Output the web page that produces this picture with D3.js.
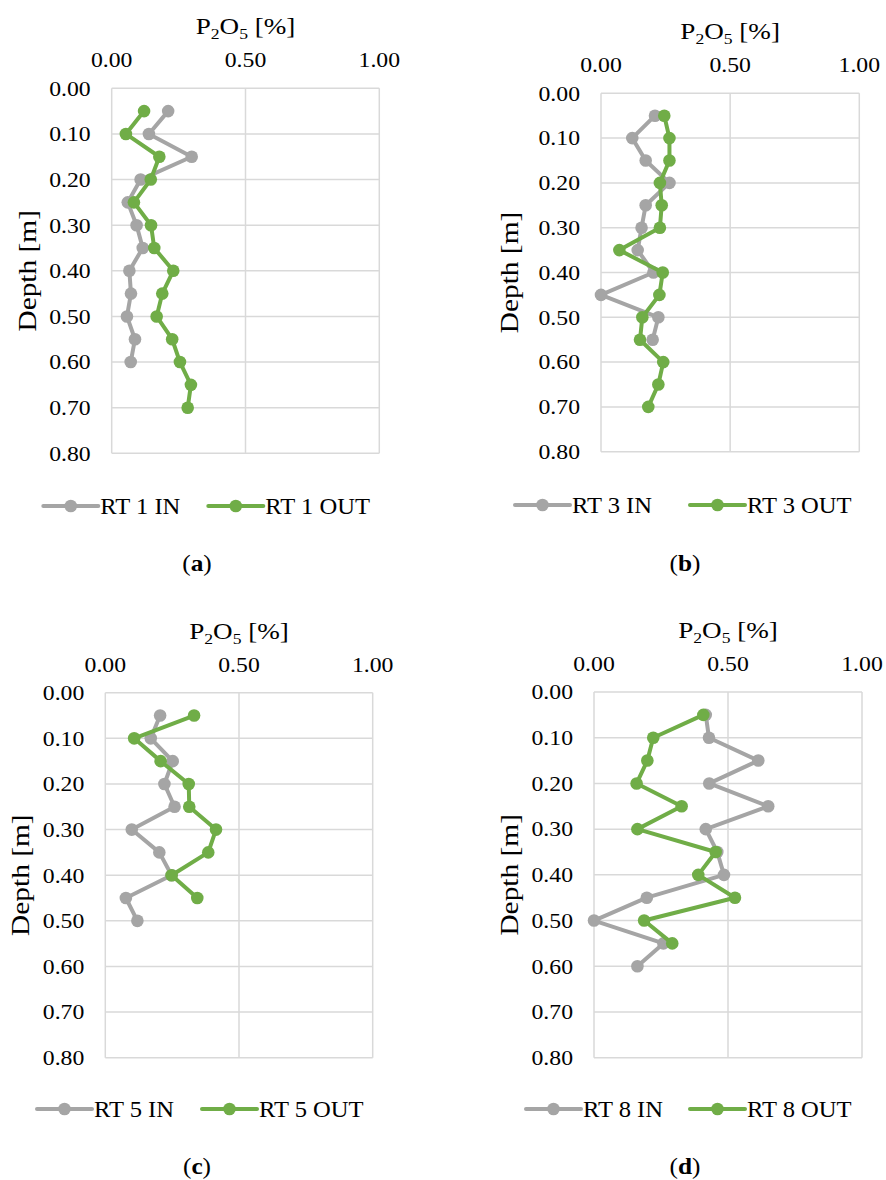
<!DOCTYPE html>
<html>
<head>
<meta charset="utf-8">
<script src="https://cdn.jsdelivr.net/npm/d3@7"></script>
<style>
  html, body { margin: 0; padding: 0; background: #ffffff; }
  svg { display: block; }
</style>
</head>
<body>
<svg id="chart" width="886" height="1180" font-family="'Liberation Serif', 'Times New Roman', Times, serif"></svg>
<script>
// ---------- data ----------
const xTicks = [0, 0.5, 1.0];
const yTicks = [0, 0.1, 0.2, 0.3, 0.4, 0.5, 0.6, 0.7, 0.8];

const depthA_in  = [0.05,0.10,0.15,0.20,0.25,0.30,0.35,0.40,0.45,0.50,0.55,0.60];
const valA_in    = [0.211,0.139,0.299,0.108,0.060,0.093,0.116,0.066,0.072,0.057,0.087,0.071];
const depthA_out = [0.05,0.10,0.15,0.20,0.25,0.30,0.35,0.40,0.45,0.50,0.55,0.60,0.65,0.70];
const valA_out   = [0.121,0.053,0.178,0.146,0.083,0.147,0.159,0.230,0.189,0.168,0.226,0.255,0.296,0.284];

const depthB_in  = [0.05,0.10,0.15,0.20,0.25,0.30,0.35,0.40,0.45,0.50,0.55];
const valB_in    = [0.209,0.121,0.173,0.265,0.173,0.157,0.142,0.203,0.000,0.222,0.200];
const depthB_out = [0.05,0.10,0.15,0.20,0.25,0.30,0.35,0.40,0.45,0.50,0.55,0.60,0.65,0.70];
const valB_out   = [0.245,0.265,0.265,0.228,0.235,0.228,0.071,0.239,0.226,0.160,0.151,0.241,0.222,0.183];

const depthC_in  = [0.05,0.10,0.15,0.20,0.25,0.30,0.35,0.40,0.45,0.50];
const valC_in    = [0.205,0.170,0.252,0.221,0.259,0.099,0.202,0.248,0.077,0.120];
const depthC_out = [0.05,0.10,0.15,0.20,0.25,0.30,0.35,0.40,0.45];
const valC_out   = [0.332,0.108,0.207,0.312,0.314,0.414,0.385,0.248,0.344];

const depthD_in  = [0.05,0.10,0.15,0.20,0.25,0.30,0.35,0.40,0.45,0.50,0.55,0.60];
const valD_in    = [0.417,0.429,0.613,0.430,0.650,0.417,0.460,0.485,0.197,0.000,0.259,0.162];
const depthD_out = [0.05,0.10,0.15,0.20,0.25,0.30,0.35,0.40,0.45,0.50,0.55];
const valD_out   = [0.408,0.221,0.199,0.159,0.327,0.162,0.454,0.389,0.526,0.187,0.292];

const seriesNames = [["RT 1 IN","RT 1 OUT"],["RT 3 IN","RT 3 OUT"],["RT 5 IN","RT 5 OUT"],["RT 8 IN","RT 8 OUT"]];
const panelLetters = ["a","b","c","d"];
const yTitle = "Depth [m]";

// ---------- layout ----------
const layout = [
  {left:111.7, right:379.3, top:88.3, bottom:453.3, yTitleX:27,  legIn:43.3, legOut:208.3, legY:506, labX:197, labY:571},
  {left:601,   right:859.3, top:93.3, bottom:451.7, yTitleX:509, legIn:515,  legOut:690,   legY:505, labX:685, labY:571},
  {left:105.3, right:372.7, top:692.7,bottom:1057.7,yTitleX:20,  legIn:37,   legOut:202,   legY:1109,labX:197, labY:1174},
  {left:594,   right:862,   top:692,  bottom:1057.7,yTitleX:509, legIn:526,  legOut:690,   legY:1109,labX:685, labY:1174}
];
const dataSets = [
  [[depthA_in,valA_in],[depthA_out,valA_out]],
  [[depthB_in,valB_in],[depthB_out,valB_out]],
  [[depthC_in,valC_in],[depthC_out,valC_out]],
  [[depthD_in,valD_in],[depthD_out,valD_out]]
];
const colors = ["#A5A5A5", "#70AD47"];
const tickFont = 21, titleFont = 24, legFont = 23, yTitleFont = 26, labFont = 23;
const sx = 1.13;

const svg = d3.select("#chart");
const fmt = d3.format(".2f");

layout.forEach((L, i) => {
  const x = d3.scaleLinear().domain([0, 1]).range([L.left, L.right]);
  const y = d3.scaleLinear().domain([0, 0.8]).range([L.top, L.bottom]);
  const g = svg.append("g");

  // gridlines
  g.selectAll(".vg").data(xTicks).enter().append("line")
    .attr("x1", d => x(d)).attr("x2", d => x(d))
    .attr("y1", L.top).attr("y2", L.bottom)
    .attr("stroke", "#D9D9D9").attr("stroke-width", 1.5);
  g.selectAll(".hg").data(yTicks).enter().append("line")
    .attr("x1", L.left).attr("x2", L.right)
    .attr("y1", d => y(d)).attr("y2", d => y(d))
    .attr("stroke", "#D9D9D9").attr("stroke-width", 1.5);

  // x tick labels (top)
  g.selectAll(".xt").data(xTicks).enter().append("g")
    .attr("transform", d => `translate(${x(d)},${L.top - 21}) scale(${sx},1)`)
    .append("text").attr("text-anchor", "middle").attr("font-size", tickFont)
    .text(d => fmt(d));
  // y tick labels
  g.selectAll(".yt").data(yTicks).enter().append("g")
    .attr("transform", d => `translate(${L.left - 21},${y(d)}) scale(${sx},1)`)
    .append("text").attr("dy", "0.35em").attr("text-anchor", "end").attr("font-size", tickFont)
    .text(d => fmt(d));

  // x title with subscripts
  const tt = g.append("g")
    .attr("transform", `translate(${(L.left + L.right) / 2},${L.top - 54}) scale(${sx},1)`)
    .append("text").attr("text-anchor", "middle").attr("font-size", titleFont);
  tt.append("tspan").text("P");
  tt.append("tspan").attr("font-size", titleFont * 0.65).attr("dy", 5).text("2");
  tt.append("tspan").attr("dy", -5).text("O");
  tt.append("tspan").attr("font-size", titleFont * 0.65).attr("dy", 5).text("5");
  tt.append("tspan").attr("dy", -5).text(" [%]");

  // y title
  g.append("g")
    .attr("transform", `translate(${L.yTitleX},${(L.top + L.bottom) / 2}) rotate(-90) scale(${sx},1)`)
    .append("text").attr("dy", "0.35em").attr("text-anchor", "middle").attr("font-size", yTitleFont)
    .text(yTitle);

  // series
  dataSets[i].forEach((s, k) => {
    const pts = s[0].map((dep, j) => ({d: dep, v: s[1][j]}));
    const line = d3.line().x(p => x(p.v)).y(p => y(p.d));
    g.append("path").datum(pts)
      .attr("d", line).attr("fill", "none")
      .attr("stroke", colors[k]).attr("stroke-width", 4)
      .attr("stroke-linejoin", "round").attr("stroke-linecap", "round");
    g.selectAll(".m" + k).data(pts).enter().append("circle")
      .attr("cx", p => x(p.v)).attr("cy", p => y(p.d))
      .attr("r", 6.3).attr("fill", colors[k]);
  });

  // legend
  [L.legIn, L.legOut].forEach((lx, k) => {
    g.append("line").attr("x1", lx).attr("x2", lx + 55)
      .attr("y1", L.legY).attr("y2", L.legY)
      .attr("stroke", colors[k]).attr("stroke-width", 4).attr("stroke-linecap", "round");
    g.append("circle").attr("cx", lx + 27.5).attr("cy", L.legY).attr("r", 6.3).attr("fill", colors[k]);
    g.append("g").attr("transform", `translate(${lx + 57},${L.legY}) scale(1.07,1)`)
      .append("text").attr("dy", "0.35em").attr("font-size", legFont).text(seriesNames[i][k]);
  });

  // panel label
  const lab = g.append("g").attr("transform", `translate(${L.labX},${L.labY}) scale(1.1,1)`)
    .append("text").attr("text-anchor", "middle").attr("font-size", labFont);
  lab.append("tspan").text("(");
  lab.append("tspan").attr("font-weight", "bold").text(panelLetters[i]);
  lab.append("tspan").text(")");
});
</script>
</body>
</html>
